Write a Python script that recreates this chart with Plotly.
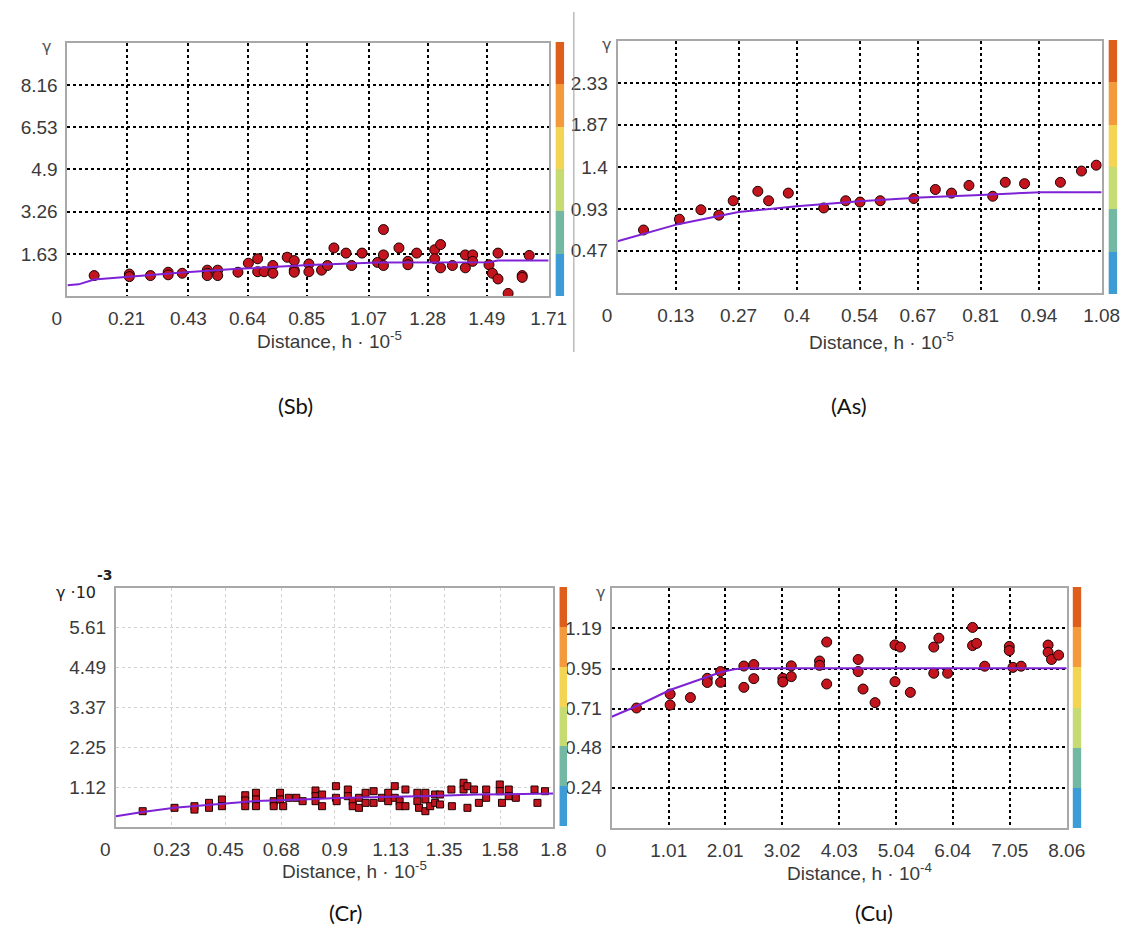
import plotly.graph_objects as go

W, H = 1141, 933

# ---------------- data ----------------
# (Sb)
sb_x = [0.095, 0.22, 0.22, 0.295, 0.358, 0.358, 0.408, 0.497, 0.497, 0.497, 0.534, 0.534, 0.606, 0.643,
        0.676, 0.676, 0.699, 0.730, 0.730, 0.781, 0.806, 0.806, 0.806, 0.858, 0.858, 0.903, 0.924, 0.947,
        0.990, 1.010, 1.047, 1.102, 1.123, 1.123, 1.123, 1.178, 1.210, 1.210, 1.241, 1.305, 1.305, 1.326,
        1.326, 1.368, 1.414, 1.414, 1.440, 1.440, 1.498, 1.510, 1.530, 1.530, 1.566, 1.616, 1.616, 1.641]
sb_y = [0.79, 0.85, 0.75, 0.79, 0.92, 0.82, 0.88, 1.0, 0.88, 0.79, 1.0, 0.79, 0.92, 1.27,
        1.44, 0.94, 0.94, 1.18, 0.88, 1.5, 1.37, 1.0, 0.92, 1.24, 0.94, 1.0, 1.18, 1.86,
        1.66, 1.18, 1.66, 1.30, 2.57, 1.59, 1.18, 1.86, 1.34, 1.21, 1.66, 1.79, 1.44, 1.99,
        1.09, 1.18, 1.59, 1.09, 1.59, 1.34, 1.21, 0.88, 1.66, 0.66, 0.10, 0.79, 0.72, 1.57]
sb_model_x = [0, 0.04, 0.095, 0.22, 0.408, 0.606, 0.858, 1.102, 1.498, 1.53, 1.71]
sb_model_y = [0.42, 0.45, 0.64, 0.75, 0.91, 1.05, 1.20, 1.30, 1.31, 1.37, 1.37]
sb_xticks = [0.21, 0.43, 0.64, 0.85, 1.07, 1.28, 1.49, 1.71]
sb_yticks = [1.63, 3.26, 4.9, 6.53, 8.16]

# (As)
as_x = [0.058, 0.138, 0.186, 0.226, 0.258, 0.313, 0.337, 0.381, 0.460, 0.509, 0.541,
        0.586, 0.661, 0.709, 0.745, 0.784, 0.837, 0.865, 0.908, 0.988, 1.035, 1.068]
as_y = [0.70, 0.82, 0.925, 0.865, 1.025, 1.13, 1.025, 1.11, 0.945, 1.025, 1.01,
        1.025, 1.05, 1.15, 1.11, 1.195, 1.075, 1.23, 1.215, 1.23, 1.355, 1.42]
as_model_x = [0, 0.135, 0.27, 0.40, 0.54, 0.675, 0.81, 0.945, 1.08]
as_model_y = [0.575, 0.765, 0.90, 0.965, 1.02, 1.06, 1.09, 1.12, 1.12]
as_xticks = [0.13, 0.27, 0.4, 0.54, 0.67, 0.81, 0.94, 1.08]
as_yticks = [0.47, 0.93, 1.4, 1.87, 2.33]

# (Cr)  gamma in units of 10^-3
cr_x = [0.110, 0.241, 0.323, 0.323, 0.383, 0.383, 0.436, 0.436, 0.532, 0.532, 0.532,
        0.576, 0.576, 0.576, 0.649, 0.649, 0.675, 0.675, 0.688, 0.711, 0.742, 0.768,
        0.821, 0.821, 0.821, 0.848, 0.848, 0.905, 0.905, 0.908, 0.954, 0.954, 0.974, 0.974,
        1.0, 1.0, 1.027, 1.027, 1.06, 1.06, 1.094, 1.12, 1.12, 1.147, 1.147, 1.167, 1.167,
        1.191, 1.191, 1.24, 1.24, 1.247, 1.273, 1.273, 1.273, 1.293, 1.313, 1.313, 1.333,
        1.333, 1.38, 1.382, 1.43, 1.43, 1.446, 1.446, 1.473, 1.493, 1.523, 1.523, 1.579,
        1.579, 1.588, 1.616, 1.616, 1.645, 1.722, 1.734, 1.765]
cr_y = [0.445, 0.54, 0.586, 0.49, 0.68, 0.54, 0.775, 0.586, 0.895, 0.746, 0.586,
        0.963, 0.775, 0.586, 0.727, 0.586, 0.963, 0.775, 0.586, 0.822, 0.822, 0.727,
        1.028, 0.868, 0.727, 0.915, 0.586, 1.149, 0.822, 0.727, 1.056, 0.868, 0.727, 0.586,
        0.822, 0.54, 0.963, 0.68, 1.008, 0.68, 0.822, 0.963, 0.727, 1.149, 0.822, 0.727, 0.586,
        1.056, 0.586, 0.963, 0.727, 0.54, 0.963, 0.775, 0.445, 0.586, 0.915, 0.68, 0.915,
        0.634, 1.056, 0.586, 1.245, 1.056, 1.149, 0.54, 1.056, 0.68, 1.056, 0.822, 1.197,
        1.008, 0.68, 1.056, 0.868, 0.822, 1.056, 0.68, 1.008]
cr_model_x = [0, 0.11, 0.241, 0.436, 0.576, 0.821, 0.908, 1.29, 1.49, 1.8]
cr_model_y = [0.30, 0.42, 0.54, 0.65, 0.73, 0.79, 0.82, 0.87, 0.915, 0.94]
cr_xticks = [0.23, 0.45, 0.68, 0.9, 1.13, 1.35, 1.58, 1.8]
cr_yticks = [1.12, 2.25, 3.37, 4.49, 5.61]

# (Cu)
cu_x = [0.44, 1.035, 1.035, 1.394, 1.693, 1.693, 1.929, 1.929, 2.341, 2.341, 2.517, 2.517,
        3.031, 3.031, 3.181, 3.181, 3.682, 3.682, 3.808, 3.808, 4.366, 4.366, 4.452, 4.665,
        5.018, 5.018, 5.112, 5.29, 5.705, 5.705, 5.795, 5.95, 6.392, 6.392, 6.463, 6.607,
        7.043, 7.043, 7.108, 7.252, 7.73, 7.73, 7.79, 7.916]
cu_y = [0.715, 0.798, 0.733, 0.777, 0.892, 0.867, 0.932, 0.868, 0.965, 0.838, 0.974, 0.89,
        0.892, 0.870, 0.966, 0.902, 0.995, 0.969, 1.108, 0.858, 1.004, 0.932, 0.828, 0.747,
        1.091, 0.872, 1.078, 0.808, 1.078, 0.922, 1.131, 0.922, 1.195, 1.087, 1.10, 0.964,
        1.082, 1.057, 0.957, 0.964, 1.09, 1.047, 1.004, 1.03]
cu_model_x = [0, 0.446, 1.032, 1.693, 1.928, 2.17, 2.342, 8.06]
cu_model_y = [0.663, 0.727, 0.822, 0.902, 0.928, 0.946, 0.952, 0.952]
cu_xticks = [1.01, 2.01, 3.02, 4.03, 5.04, 6.04, 7.05, 8.06]
cu_yticks = [0.24, 0.48, 0.71, 0.95, 1.19]

captions = ["(Sb)", "(As)", "(Cr)", "(Cu)"]
bar_colors = ["#3d9bd6", "#72b8a2", "#c6dc72", "#f4d553", "#f29a3c", "#de5f1c"]

# ---------------- layout helpers ----------------
def fx(p):
    return p / W

def fy(p):
    return 1 - p / H

panels = [
    dict(x=sb_x, y=sb_y, mx=sb_model_x, my=sb_model_y, xt=sb_xticks, yt=sb_yticks,
         xmax=1.71, ymax=9.79, box=(53, 549, 43, 296), cb=(556, 565, 42, 296),
         sym="circle", size=10, grid="#000000", exp="-5",
         title_xy=(323, 340), cap_xy=(288, 405), gamma_xy=(31, 47)),
    dict(x=as_x, y=as_y, mx=as_model_x, my=as_model_y, xt=as_xticks, yt=as_yticks,
         xmax=1.08, ymax=2.80, box=(620, 1119, 41, 293), cb=(1126, 1135, 40, 294),
         sym="circle", size=10, grid="#000000", exp="-5",
         title_xy=(892, 341), cap_xy=(859, 405), gamma_xy=(609, 45)),
    dict(x=cr_x, y=cr_y, mx=cr_model_x, my=cr_model_y, xt=cr_xticks, yt=cr_yticks,
         xmax=1.8, ymax=6.73, box=(103, 554, 588, 827), cb=(560, 568, 587, 826),
         sym="square", size=7, grid="#d2d2d2", exp="-5",
         title_xy=(349, 870), cap_xy=(340, 912), gamma_xy=None),
    dict(x=cu_x, y=cu_y, mx=cu_model_x, my=cu_model_y, xt=cu_xticks, yt=cu_yticks,
         xmax=8.06, ymax=1.43, box=(614, 1083, 588, 828), cb=(1089, 1098, 587, 828),
         sym="circle", size=10, grid="#000000", exp="-4",
         title_xy=(869, 872), cap_xy=(884, 912), gamma_xy=(602, 592)),
]

fig = go.Figure()
tick_font = dict(family="Liberation Sans, Arial, sans-serif", size=19, color="#3a3a3a")
annotations = []
layout = {}

for i, p in enumerate(panels):
    k = i + 1
    kc = i + 5
    x0, x1, y0, y1 = p["box"]
    c0, c1, d0, d1 = p["cb"]

    fig.add_trace(go.Scatter(
        x=p["x"], y=p["y"], mode="markers", xaxis=f"x{k}", yaxis=f"y{k}",
        marker=dict(symbol=p["sym"], size=p["size"], color="#c4151f",
                    line=dict(color="#1a0000", width=1)),
        showlegend=False, hoverinfo="skip"))
    fig.add_trace(go.Scatter(
        x=p["mx"], y=p["my"], mode="lines", xaxis=f"x{k}", yaxis=f"y{k}",
        line=dict(color="#7e22d6", width=2), showlegend=False, hoverinfo="skip"))

    fig.add_trace(go.Heatmap(
        z=[[j] for j in range(6)], x=[0], y=list(range(6)),
        colorscale=[[j / 5, c] for j, c in enumerate(bar_colors)],
        zmin=0, zmax=5, showscale=False, xaxis=f"x{kc}", yaxis=f"y{kc}", hoverinfo="skip"))

    grid_w = 1.6 if p["grid"] == "#000000" else 1.4
    layout[f"xaxis{k}"] = dict(
        domain=[fx(x0), fx(x1)], range=[0, p["xmax"]], anchor=f"y{k}",
        tickvals=[0] + p["xt"], ticktext=["0\u00a0\u00a0\u00a0\u00a0"] + [f"{v:g}" for v in p["xt"]],
        showgrid=True, gridcolor=p["grid"], griddash="dot", gridwidth=grid_w,
        showline=True, mirror=True, linecolor="#a8a8a8", linewidth=2,
        zeroline=False, ticks="", ticklabelstandoff=4, tickfont=tick_font, fixedrange=True)
    layout[f"yaxis{k}"] = dict(
        domain=[fy(y1), fy(y0)], range=[0, p["ymax"]], anchor=f"x{k}",
        tickvals=p["yt"], ticktext=[f"{v:g}" for v in p["yt"]],
        showgrid=True, gridcolor=p["grid"], griddash="dot", gridwidth=grid_w,
        showline=True, mirror=True, linecolor="#a8a8a8", linewidth=2,
        zeroline=False, ticks="", ticklabelstandoff=4, tickfont=tick_font, fixedrange=True)
    layout[f"xaxis{kc}"] = dict(domain=[fx(c0), fx(c1)], range=[-0.5, 0.5], anchor=f"y{kc}",
                                visible=False, fixedrange=True)
    layout[f"yaxis{kc}"] = dict(domain=[fy(d1), fy(d0)], range=[-0.5, 5.5], anchor=f"x{kc}",
                                visible=False, fixedrange=True)

    tx, ty = p["title_xy"]
    annotations.append(dict(
        text=f"Distance, h\u00a0·\u00a010<sup>{p['exp']}</sup>", x=fx(tx), y=fy(ty),
        xref="paper", yref="paper", xanchor="center", yanchor="middle", showarrow=False,
        font=dict(family="Liberation Sans, Arial, sans-serif", size=19, color="#3a3a3a")))
    cx, cy = p["cap_xy"]
    annotations.append(dict(
        text=captions[i], x=fx(cx), y=fy(cy), xref="paper", yref="paper",
        xanchor="center", yanchor="middle", showarrow=False,
        font=dict(family="Lato, sans-serif", size=22, color="#111111")))
    if p["gamma_xy"] is not None:
        gx, gy = p["gamma_xy"]
        annotations.append(dict(
            text="γ", x=fx(gx), y=fy(gy), xref="paper", yref="paper",
            xanchor="center", yanchor="middle", showarrow=False,
            font=dict(family="DejaVu Sans, sans-serif", size=16, color="#555555")))

# Cr y-axis label gamma*10^-3
annotations.append(dict(text="γ ·10", x=fx(62), y=fy(592), xref="paper", yref="paper",
                        xanchor="center", yanchor="middle", showarrow=False,
                        font=dict(family="DejaVu Sans, sans-serif", size=16, color="#222222")))
annotations.append(dict(text="<b>-3</b>", x=fx(92), y=fy(575), xref="paper", yref="paper",
                        xanchor="center", yanchor="middle", showarrow=False,
                        font=dict(family="DejaVu Sans, sans-serif", size=14, color="#222222")))

fig.update_layout(
    width=W, height=H, margin=dict(l=0, r=0, t=0, b=0),
    paper_bgcolor="white", plot_bgcolor="white",
    annotations=annotations,
    shapes=[dict(type="line", xref="paper", yref="paper", x0=fx(575), x1=fx(575),
                 y0=fy(12), y1=fy(352), line=dict(color="#9a9a9a", width=1))],
    **layout)

fig.write_html("out.html", config={"displayModeBar": False},
               post_script="document.body.style.margin='0';document.body.style.overflow='hidden';")
